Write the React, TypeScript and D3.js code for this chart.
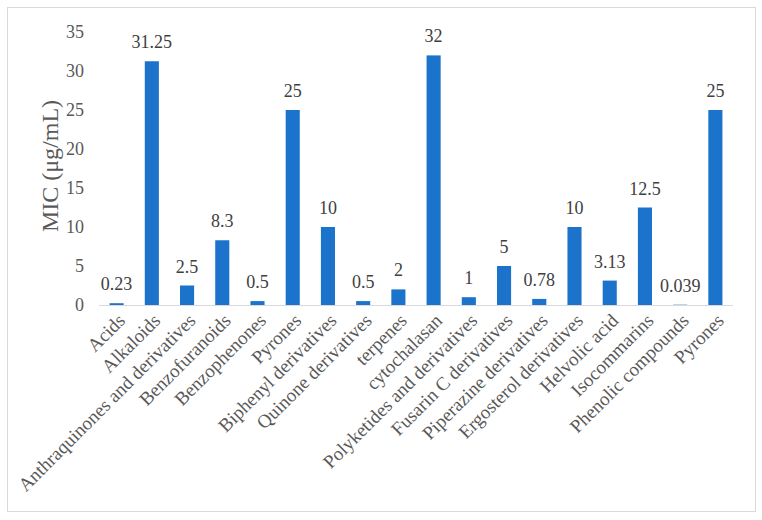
import React from "react";
import * as d3 from "d3";

const categories = [
  "Acids",
  "Alkaloids",
  "Anthraquinones and derivatives",
  "Benzofuranoids",
  "Benzophenones",
  "Pyrones",
  "Biphenyl derivatives",
  "Quinone derivatives",
  "terpenes",
  "cytochalasan",
  "Polyketides and derivatives",
  "Fusarin C derivatives",
  "Piperazine derivatives",
  "Ergosterol derivatives",
  "Helvolic acid",
  "Isocommarins",
  "Phenolic compounds",
  "Pyrones",
];
const values = [0.23, 31.25, 2.5, 8.3, 0.5, 25, 10, 0.5, 2, 32, 1, 5, 0.78, 10, 3.13, 12.5, 0.039, 25];
const valueLabels = ["0.23", "31.25", "2.5", "8.3", "0.5", "25", "10", "0.5", "2", "32", "1", "5", "0.78", "10", "3.13", "12.5", "0.039", "25"];
const yTicks = [0, 5, 10, 15, 20, 25, 30, 35];
const yTitle = "MIC (μg/mL)";

const W = 762;
const H = 520;
const FONT = "'Liberation Serif', 'Times New Roman', serif";

export default function App() {
  const x = d3
    .scaleBand<number>()
    .domain(categories.map((_, i) => i))
    .range([99, 733])
    .paddingInner(0.6)
    .paddingOuter(0.3);
  const y = d3.scaleLinear().domain([0, 35]).range([305, 32]);

  return (
    <svg
      width={W}
      height={H}
      style={{ position: "absolute", left: 0, top: 0, background: "#fff" }}
      fontFamily={FONT}
    >
      <rect x={7.5} y={7.5} width={748} height={504} fill="#fff" stroke="#d9d9d9" strokeWidth={1} />
      {yTicks.map((t) => (
        <text key={t} x={84} y={y(t)} dy="0.35em" textAnchor="end" fontSize={18} fill="#595959">
          {t}
        </text>
      ))}
      <text
        transform={`translate(50,166) rotate(-90)`}
        textAnchor="middle"
        dy="0.35em"
        fontSize={24}
        fill="#595959"
      >
        {yTitle}
      </text>
      {values.map((v, i) => (
        <rect
          key={i}
          x={x(i)!}
          y={y(v)}
          width={x.bandwidth()}
          height={y(0) - y(v)}
          fill="#1b73cb"
        />
      ))}
      <line x1={99} x2={733} y1={y(0) + 0.5} y2={y(0) + 0.5} stroke="#d9d9d9" strokeWidth={1} />
      {values.map((v, i) => (
        <text
          key={i}
          x={x(i)! + x.bandwidth() / 2}
          y={y(v) - 13}
          textAnchor="middle"
          fontSize={18}
          fill="#404040"
        >
          {valueLabels[i]}
        </text>
      ))}
      {categories.map((c, i) => (
        <text
          key={i}
          transform={`translate(${x(i)! + x.bandwidth() / 2 + 5},${y(0) + 12}) rotate(-45)`}
          textAnchor="end"
          dy="0.35em"
          fontSize={19}
          fill="#595959"
        >
          {c}
        </text>
      ))}
    </svg>
  );
}
